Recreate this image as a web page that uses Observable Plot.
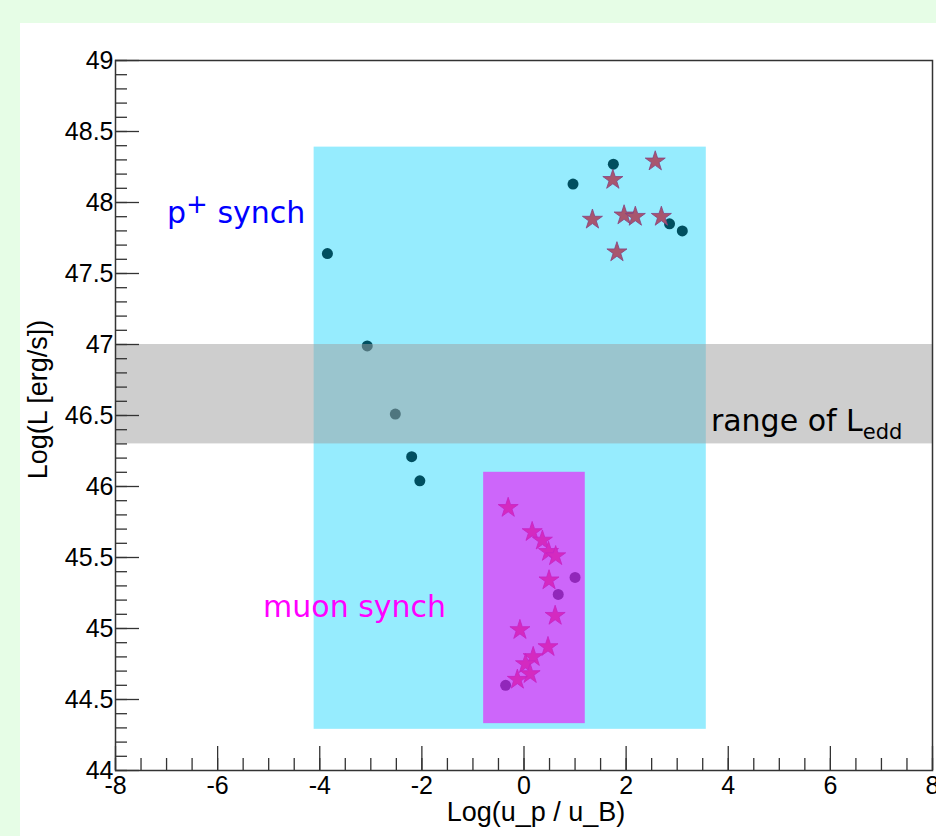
<!DOCTYPE html>
<html><head><meta charset="utf-8">
<script src="https://cdn.jsdelivr.net/npm/d3@7"></script>
<script src="https://cdn.jsdelivr.net/npm/@observablehq/plot@0.6"></script>
<style>
html,body{margin:0;padding:0;background:#e6fde6;width:936px;height:836px;overflow:hidden;}
#panel{position:absolute;left:20px;top:23px;width:916px;height:813px;background:#fff;overflow:hidden;}
</style></head><body><div id="panel"></div>
<script>
// circles (proton synchrotron model points)
const circleX = [-3.85, -3.07, -2.52, -2.20, -2.04, 0.96, 1.75, 2.85, 3.10, 1.00, 0.67, -0.36];
const circleY = [47.64, 46.99, 46.51, 46.21, 46.04, 48.13, 48.27, 47.85, 47.80, 45.36, 45.24, 44.60];
// stars
const starX = [2.57, 1.74, 1.34, 1.96, 2.18, 2.69, 1.82,
               -0.31, 0.16, 0.36, 0.48, 0.62, 0.49, 0.61, -0.08, 0.47, 0.18, 0.03, 0.12, -0.13];
const starY = [48.29, 48.16, 47.88, 47.91, 47.90, 47.90, 47.65,
               45.85, 45.68, 45.62, 45.54, 45.51, 45.34, 45.09, 44.99, 44.87, 44.80, 44.75, 44.68, 44.64];
// shaded regions
const pSynchBox = [{x1: -4.11, x2: 3.57, y1: 44.29, y2: 48.39}];
const muonBox = [{x1: -0.79, x2: 1.20, y1: 44.33, y2: 46.10}];
const eddBand = [{y1: 46.30, y2: 47.00}];
// annotations
const labelText = ["p+ synch", "muon synch", "range of Ledd"];
const labelX = [-6.99, -5.11, 3.66];
const labelY = [47.92, 45.15, 46.46];
const labelColor = ["#0000ff", "#ff00ff", "#000000"];
// ticks
const xTicks = [-8, -6, -4, -2, 0, 2, 4, 6, 8];
const yTicks = [44, 44.5, 45, 45.5, 46, 46.5, 47, 47.5, 48, 48.5, 49];
const xMinor = d3.range(-8, 8.001, 0.5);
const yMinor = d3.range(44, 49.001, 0.1);
const xTitle = "Log(u_p / u_B)";
const yTitle = "Log(L [erg/s])";

const axisStyle = {stroke: "#333", strokeWidth: 1.3};
const plot = Plot.plot({
  width: 916, height: 813,
  marginLeft: 95, marginRight: 4, marginTop: 37, marginBottom: 66,
  x: {domain: [-8, 8]},
  y: {domain: [44, 49]},
  style: {fontFamily: "'Liberation Sans', Arial, sans-serif", fontSize: "25px", background: "transparent", color: "#000", overflow: "visible"},
  marks: [
    Plot.rect(pSynchBox, {x1: "x1", x2: "x2", y1: "y1", y2: "y2", fill: "#96ecfe"}),
    Plot.dot(circleX, {x: circleX, y: circleY, r: 5.5, fill: "#004f60", stroke: "none"}),
    Plot.dot(starX, {x: starX, y: starY, symbol: "star", r: 6.3, fill: "#a8566e", stroke: "#86407e", strokeWidth: 0.8}),
    Plot.rect(eddBand, {y1: "y1", y2: "y2", fill: "#9d9d9d", fillOpacity: 0.5}),
    Plot.rect(muonBox, {x1: "x1", x2: "x2", y1: "y1", y2: "y2", fill: "#f20df7", fillOpacity: 0.6}),
    ...labelText.map((t, i) => Plot.text([t], {x: [labelX[i]], y: [labelY[i]], text: d => d, fill: labelColor[i],
      textAnchor: "start", fontFamily: "'DejaVu Sans', sans-serif", fontSize: 30})),
    Plot.axisX(xMinor, {tickSize: -12, tickFormat: () => "", label: null, ...axisStyle}),
    Plot.axisX(xTicks, {tickSize: -24, tickPadding: 30, tickFormat: d => String(d), label: null, ...axisStyle}),
    Plot.axisY(yMinor, {tickSize: -12, tickFormat: () => "", label: null, ...axisStyle}),
    Plot.axisY(yTicks, {tickSize: -24, tickPadding: 26, tickFormat: d => String(d), label: null, ...axisStyle}),
    Plot.frame({stroke: "#333", strokeWidth: 1.5}),
    Plot.text([xTitle], {frameAnchor: "bottom", dx: 12, dy: 42, lineAnchor: "middle", textAnchor: "middle", text: d => d, fontSize: 27}),
    Plot.text([yTitle], {frameAnchor: "left", dx: -77, dy: -16, rotate: -90, lineAnchor: "middle", textAnchor: "middle", text: d => d, fontSize: 27})
  ]
});
document.getElementById("panel").appendChild(plot);

// rich text: superscript / subscript
d3.select(plot).selectAll("text").each(function() {
  const el = d3.select(this);
  const s = this.textContent;
  if (s === "p+ synch") {
    el.text(null);
    el.append("tspan").text("p");
    el.append("tspan").attr("dy", -10).attr("font-size", 26).text("+");
    el.append("tspan").attr("dy", 10).text(" synch");
  } else if (s === "range of Ledd") {
    el.text(null);
    el.append("tspan").text("range of L");
    el.append("tspan").attr("dy", 8).attr("font-size", 21).text("edd");
  }
});
</script>
</body></html>
